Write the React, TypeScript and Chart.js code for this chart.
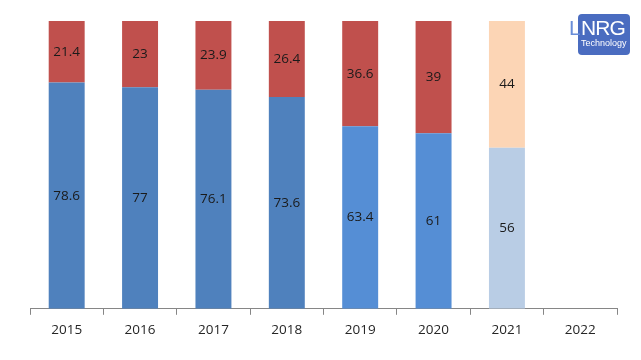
import React, { useEffect, useRef } from "react";
import { Chart, registerables } from "chart.js";

Chart.register(...registerables);

const categories = ["2015", "2016", "2017", "2018", "2019", "2020", "2021", "2022"];
const lowerValues = [78.6, 77, 76.1, 73.6, 63.4, 61, 56, null];
const upperValues = [21.4, 23, 23.9, 26.4, 36.6, 39, 44, null];
const lowerColors = ["#4F81BD", "#4F81BD", "#4F81BD", "#4F81BD", "#558ED5", "#558ED5", "#B9CDE5", "#B9CDE5"];
const upperColors = ["#C0504D", "#C0504D", "#C0504D", "#C0504D", "#C0504D", "#C0504D", "#FCD5B5", "#FCD5B5"];

const valueLabels = {
  id: "valueLabels",
  afterDatasetsDraw(chart: any) {
    const ctx = chart.ctx;
    ctx.save();
    ctx.font = "13.5px 'Open Sans', sans-serif";
    ctx.fillStyle = "#1a1a1a";
    ctx.textAlign = "center";
    ctx.textBaseline = "middle";
    chart.data.datasets.forEach((ds: any, di: number) => {
      const meta = chart.getDatasetMeta(di);
      meta.data.forEach((el: any, i: number) => {
        const v = ds.data[i];
        if (v == null) return;
        const props = el.getProps(["x", "y", "base"], true);
        ctx.fillText(String(v), props.x, (props.y + props.base) / 2);
      });
    });
    ctx.restore();
  },
};

export default function App() {
  const ref = useRef<HTMLCanvasElement>(null);
  useEffect(() => {
    document.body.style.margin = "0";
    const chart = new Chart(ref.current!, {
      type: "bar",
      data: {
        labels: categories,
        datasets: [
          { data: lowerValues as any, backgroundColor: lowerColors, barPercentage: 0.49, categoryPercentage: 1 },
          { data: upperValues as any, backgroundColor: upperColors, barPercentage: 0.49, categoryPercentage: 1 },
        ],
      },
      options: {
        animation: false,
        responsive: false,
        layout: { padding: { left: 30, right: 24, top: 21, bottom: 15 } },
        plugins: { legend: { display: false }, tooltip: { enabled: false } },
        scales: {
          x: {
            stacked: true,
            grid: { display: true, drawOnChartArea: false, drawTicks: true, tickLength: 6, color: "#868686", offset: true },
            border: { display: true, color: "#868686" },
            ticks: { color: "#262626", font: { family: "'Open Sans', sans-serif", size: 13.5 }, padding: 7 },
          },
          y: { stacked: true, display: false, min: 0, max: 100 },
        },
      },
      plugins: [valueLabels],
    });
    return () => chart.destroy();
  }, []);
  return (
    <div style={{ position: "relative", width: 641, height: 360, background: "#fff" }}>
      <canvas ref={ref} width={641} height={360} style={{ display: "block" }} />
      <div style={{ position: "absolute", left: 578, top: 14, width: 52, height: 41, background: "#4A6CC0", borderRadius: 4 }} />
      <div style={{ position: "absolute", left: 569, top: 16, fontFamily: "'Liberation Sans', Arial, sans-serif", fontSize: 21, lineHeight: "24px", color: "#fff", letterSpacing: -0.8 }}>
        <span style={{ color: "#6A8ED8", marginRight: 1 }}>L</span>NRG
      </div>
      <div style={{ position: "absolute", left: 581, top: 38, fontFamily: "'Liberation Sans', Arial, sans-serif", fontSize: 9, lineHeight: "11px", color: "#fff" }}>
        Technology
      </div>
    </div>
  );
}
